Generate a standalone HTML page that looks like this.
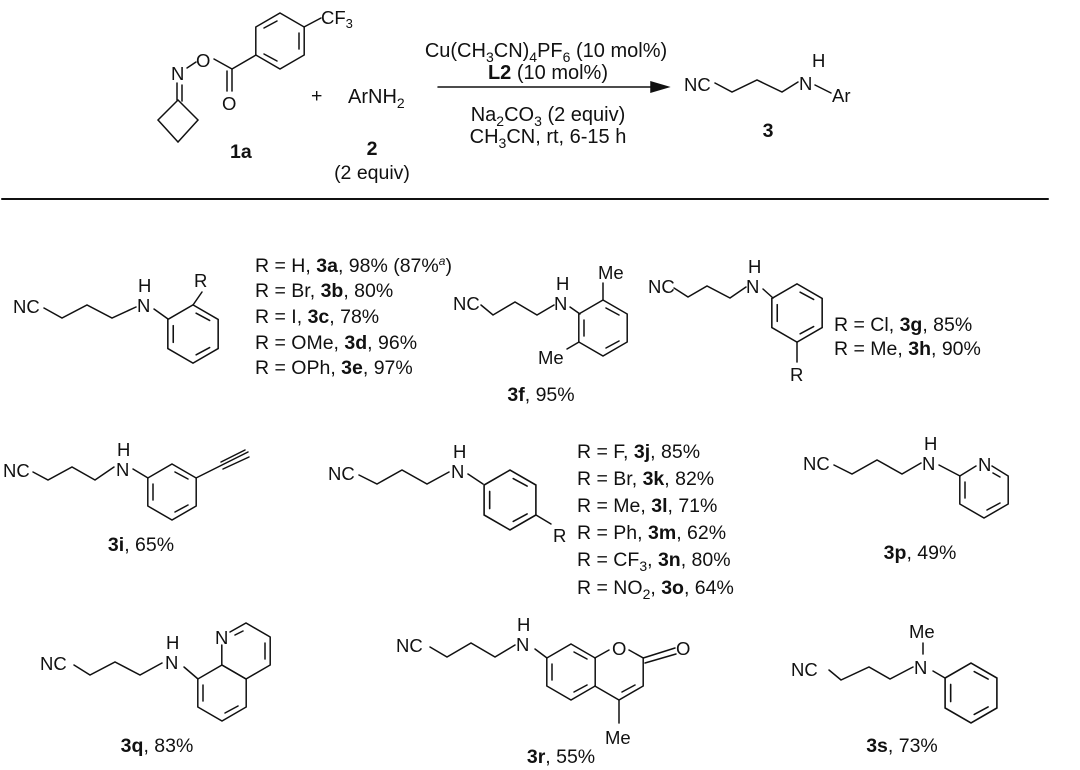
<!DOCTYPE html>
<html><head><meta charset="utf-8"><style>
html,body{margin:0;padding:0;background:#fff;}
svg{display:block;}
text{font-family:"Liberation Sans",Arial,sans-serif;fill:#111;}
.a{font-size:18.5px;}
.t{font-size:19.5px;}
.c{font-size:20px;}
</style></head><body>
<svg width="1080" height="770" viewBox="0 0 1080 770" xmlns="http://www.w3.org/2000/svg">
<defs>
<polygon id="hx" points="0,-28 24.2,-14 24.2,14 0,28 -24.2,14 -24.2,-14" fill="none" stroke="#111" stroke-width="1.5"/>
</defs>
<g stroke="#111" stroke-width="1.5" fill="none" stroke-linecap="round">

<g transform="translate(280,41)"><use href="#hx"/>
<line x1="-16" y1="-13" x2="-3" y2="-20"/><line x1="19" y1="-8" x2="19" y2="8"/><line x1="-3" y1="20" x2="-16" y2="13"/></g>
<line x1="304" y1="27" x2="321" y2="18"/>
<line x1="256" y1="55" x2="232" y2="69"/>
<line x1="232" y1="69" x2="232" y2="91"/><line x1="227" y1="71" x2="227" y2="91"/>
<line x1="232" y1="69" x2="214" y2="59"/>
<line x1="196" y1="62" x2="187" y2="68"/>
<line x1="177" y1="83" x2="177" y2="100"/><line x1="182" y1="85" x2="182" y2="101"/>
<polygon points="178,100 198,120 178,142 158,120"/>

<line x1="438" y1="87" x2="655" y2="87"/>
<polygon points="668,87 651,82 651,92" fill="#111"/>

<polyline points="715,83 732,92 757,80 782,92 798,82"/>
<line x1="815" y1="85" x2="831" y2="93"/>

<line x1="2" y1="199" x2="1048" y2="199" stroke-width="2"/>

<polyline points="44,308 62,318 87,305 112,318 136,307"/>
<line x1="154" y1="309" x2="168" y2="319"/>
<g transform="translate(193,334) scale(1.04)"><use href="#hx"/>
<line x1="-19" y1="8" x2="-19" y2="-8"/><line x1="3" y1="-20" x2="16" y2="-13"/><line x1="16" y1="13" x2="3" y2="20"/></g>
<line x1="193" y1="305" x2="202" y2="292"/>

<polyline points="481,305 493,315 515,302 537,315 554,305"/>
<line x1="570" y1="307" x2="580" y2="314"/>
<g transform="translate(603,328)"><use href="#hx"/>
<line x1="-19" y1="8" x2="-19" y2="-8"/><line x1="3" y1="-20" x2="16" y2="-13"/><line x1="16" y1="13" x2="3" y2="20"/></g>
<line x1="603" y1="300" x2="603" y2="283"/>
<line x1="579" y1="342" x2="567" y2="349"/>

<polyline points="674,288 688,297 707,286 730,298 746,287"/>
<line x1="763" y1="289" x2="773" y2="298"/>
<g transform="translate(797,313) scale(1.04)"><use href="#hx"/>
<line x1="-19" y1="8" x2="-19" y2="-8"/><line x1="3" y1="-20" x2="16" y2="-13"/><line x1="16" y1="13" x2="3" y2="20"/></g>
<line x1="797" y1="342" x2="797" y2="362"/>

<polyline points="33,472 48,480 72,467 95,480 114,467"/>
<line x1="133" y1="469" x2="148" y2="478"/>
<g transform="translate(172,492)"><use href="#hx"/>
<line x1="-19" y1="8" x2="-19" y2="-8"/><line x1="3" y1="-20" x2="16" y2="-13"/><line x1="16" y1="13" x2="3" y2="20"/></g>
<line x1="196" y1="478" x2="248" y2="452"/>
<line x1="221" y1="462" x2="245" y2="450"/><line x1="223" y1="469" x2="249" y2="457"/>

<polyline points="359,475 377,484 402,470 427,484 449,472"/>
<line x1="468" y1="474" x2="483" y2="484"/>
<g transform="translate(510,500) scale(1.07)"><use href="#hx"/>
<line x1="-19" y1="8" x2="-19" y2="-8"/><line x1="3" y1="-20" x2="16" y2="-13"/><line x1="16" y1="13" x2="3" y2="20"/></g>
<line x1="536" y1="515" x2="551" y2="524"/>

<polyline points="834,465 852,474 877,460 902,474 921,463"/>
<line x1="939" y1="465" x2="960" y2="476"/>
<g transform="translate(984,490)">
<polyline points="8,-24 24.2,-14 24.2,14 0,28 -24.2,14 -24.2,-14 -8,-24"/>
<line x1="-19" y1="8" x2="-19" y2="-8"/><line x1="9" y1="-17" x2="16" y2="-13"/><line x1="16" y1="13" x2="3" y2="20"/></g>

<polyline points="74,665 90,675 115,662 140,675 162,663"/>
<line x1="184" y1="667" x2="198" y2="679"/>
<g transform="translate(222,693)"><use href="#hx"/>
<line x1="-19" y1="8" x2="-19" y2="-8"/><line x1="16" y1="13" x2="3" y2="20"/></g>
<g transform="translate(246,651)">
<polyline points="-24.2,-6 -24.2,14 0,28 24.2,14 24.2,-14 0,-28 -16,-19"/>
<line x1="19" y1="-8" x2="19" y2="8"/><line x1="-3" y1="-20" x2="-11" y2="-16"/></g>

<polyline points="430,647 447,657 471,643 495,657 515,645"/>
<line x1="535" y1="649" x2="547" y2="658"/>
<g transform="translate(571,672)"><use href="#hx"/>
<line x1="-19" y1="8" x2="-19" y2="-8"/><line x1="3" y1="-20" x2="16" y2="-13"/><line x1="16" y1="13" x2="3" y2="20"/></g>
<g transform="translate(619,672)">
<polyline points="-24.2,-14 -10,-22"/>
<polyline points="10,-22 24.2,-14 24.2,14 0,28 -24.2,14"/>
<line x1="16" y1="13" x2="3" y2="20"/>
<line x1="24.2" y1="-14" x2="56" y2="-24"/><line x1="26" y1="-9" x2="57" y2="-18"/>
<line x1="0" y1="28" x2="0" y2="51"/></g>

<polyline points="829,670 841,680 869,667 890,679 913,667"/>
<line x1="923" y1="654" x2="923" y2="643"/>
<line x1="933" y1="671" x2="945" y2="678"/>
<g transform="translate(971,693) scale(1.07)"><use href="#hx"/>
<line x1="-19" y1="8" x2="-19" y2="-8"/><line x1="3" y1="-20" x2="16" y2="-13"/><line x1="16" y1="13" x2="3" y2="20"/></g>
</g>

<text class="a" x="321" y="24">CF<tspan font-size="13" dy="4">3</tspan></text>
<text class="a" x="196" y="67">O</text>
<text class="a" x="171" y="80">N</text>
<text class="a" x="222" y="110">O</text>
<text class="t" x="311" y="102">+</text>
<text class="c" x="348" y="103">ArNH<tspan font-size="14" dy="5">2</tspan></text>
<text class="t" x="230" y="158" font-weight="bold">1a</text>
<text class="t" x="372" y="155" font-weight="bold" text-anchor="middle">2</text>
<text class="t" x="372" y="179" text-anchor="middle">(2 equiv)</text>

<text class="c" x="546" y="57" text-anchor="middle">Cu(CH<tspan font-size="14" dy="5">3</tspan><tspan dy="-5">CN)</tspan><tspan font-size="14" dy="5">4</tspan><tspan dy="-5">PF</tspan><tspan font-size="14" dy="5">6</tspan><tspan dy="-5"> (10 mol%)</tspan></text>
<text class="c" x="548" y="79" text-anchor="middle"><tspan font-weight="bold">L2</tspan> (10 mol%)</text>
<text class="c" x="548" y="121" text-anchor="middle">Na<tspan font-size="14" dy="5">2</tspan><tspan dy="-5">CO</tspan><tspan font-size="14" dy="5">3</tspan><tspan dy="-5"> (2 equiv)</tspan></text>
<text class="c" x="548" y="143" text-anchor="middle">CH<tspan font-size="14" dy="5">3</tspan><tspan dy="-5">CN, rt, 6-15 h</tspan></text>

<text class="a" x="684" y="91">NC</text>
<text class="a" x="799" y="90">N</text>
<text class="a" x="812" y="67">H</text>
<text class="a" x="832" y="102">Ar</text>
<text class="t" x="768" y="137" font-weight="bold" text-anchor="middle">3</text>

<text class="a" x="13" y="313">NC</text>
<text class="a" x="137" y="312">N</text>
<text class="a" x="138" y="292">H</text>
<text class="a" x="194" y="287">R</text>
<text class="t" x="255" y="272">R = H, <tspan font-weight="bold">3a</tspan>, 98% (87%<tspan font-size="12" dy="-7" font-style="italic">a</tspan><tspan dy="7">)</tspan></text>
<text class="t" x="255" y="297">R = Br, <tspan font-weight="bold">3b</tspan>, 80%</text>
<text class="t" x="255" y="323">R = I, <tspan font-weight="bold">3c</tspan>, 78%</text>
<text class="t" x="255" y="349">R = OMe, <tspan font-weight="bold">3d</tspan>, 96%</text>
<text class="t" x="255" y="374">R = OPh, <tspan font-weight="bold">3e</tspan>, 97%</text>

<text class="a" x="453" y="310">NC</text>
<text class="a" x="554" y="310">N</text>
<text class="a" x="556" y="290">H</text>
<text class="a" x="598" y="279">Me</text>
<text class="a" x="538" y="364">Me</text>
<text class="t" x="541" y="401" text-anchor="middle"><tspan font-weight="bold">3f</tspan>, 95%</text>

<text class="a" x="648" y="293">NC</text>
<text class="a" x="746" y="293">N</text>
<text class="a" x="748" y="273">H</text>
<text class="a" x="790" y="381">R</text>
<text class="t" x="834" y="331">R = Cl, <tspan font-weight="bold">3g</tspan>, 85%</text>
<text class="t" x="834" y="355">R = Me, <tspan font-weight="bold">3h</tspan>, 90%</text>

<text class="a" x="3" y="477">NC</text>
<text class="a" x="116" y="476">N</text>
<text class="a" x="117" y="456">H</text>
<text class="t" x="141" y="551" text-anchor="middle"><tspan font-weight="bold">3i</tspan>, 65%</text>

<text class="a" x="328" y="480">NC</text>
<text class="a" x="451" y="478">N</text>
<text class="a" x="453" y="458">H</text>
<text class="a" x="553" y="542">R</text>
<text class="t" x="577" y="458">R = F, <tspan font-weight="bold">3j</tspan>, 85%</text>
<text class="t" x="577" y="485">R = Br, <tspan font-weight="bold">3k</tspan>, 82%</text>
<text class="t" x="577" y="512">R = Me, <tspan font-weight="bold">3l</tspan>, 71%</text>
<text class="t" x="577" y="539">R = Ph, <tspan font-weight="bold">3m</tspan>, 62%</text>
<text class="t" x="577" y="566">R = CF<tspan font-size="14" dy="5">3</tspan><tspan dy="-5">, </tspan><tspan font-weight="bold">3n</tspan>, 80%</text>
<text class="t" x="577" y="594">R = NO<tspan font-size="14" dy="5">2</tspan><tspan dy="-5">, </tspan><tspan font-weight="bold">3o</tspan>, 64%</text>

<text class="a" x="803" y="470">NC</text>
<text class="a" x="922" y="470">N</text>
<text class="a" x="924" y="450">H</text>
<text class="a" x="978" y="471">N</text>
<text class="t" x="920" y="559" text-anchor="middle"><tspan font-weight="bold">3p</tspan>, 49%</text>

<text class="a" x="40" y="670">NC</text>
<text class="a" x="165" y="669">N</text>
<text class="a" x="166" y="649">H</text>
<text class="a" x="215" y="644">N</text>
<text class="t" x="157" y="752" text-anchor="middle"><tspan font-weight="bold">3q</tspan>, 83%</text>

<text class="a" x="396" y="652">NC</text>
<text class="a" x="516" y="651">N</text>
<text class="a" x="517" y="631">H</text>
<text class="a" x="612" y="655">O</text>
<text class="a" x="676" y="655">O</text>
<text class="a" x="605" y="744">Me</text>
<text class="t" x="561" y="763" text-anchor="middle"><tspan font-weight="bold">3r</tspan>, 55%</text>

<text class="a" x="791" y="676">NC</text>
<text class="a" x="914" y="674">N</text>
<text class="a" x="909" y="638">Me</text>
<text class="t" x="902" y="752" text-anchor="middle"><tspan font-weight="bold">3s</tspan>, 73%</text>
</svg>
</body></html>
